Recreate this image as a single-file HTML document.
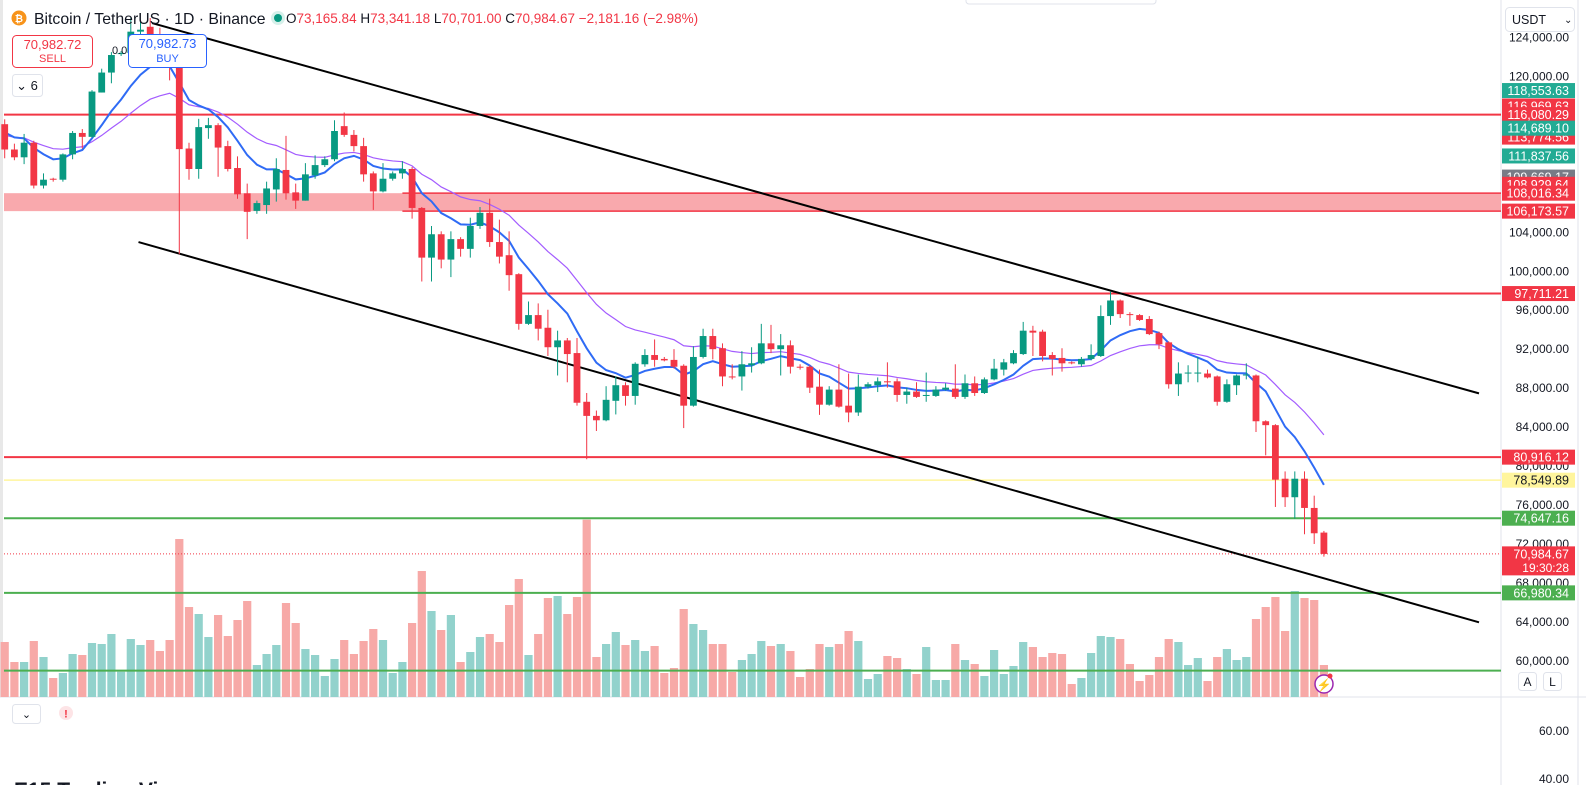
<!DOCTYPE html>
<html><head><meta charset="utf-8"><style>
html,body{margin:0;padding:0;background:#fff;width:1586px;height:785px;overflow:hidden;font-family:"Liberation Sans",Arial,sans-serif;}
svg{display:block}
</style></head><body>
<svg id="chart" width="1586" height="785" xmlns="http://www.w3.org/2000/svg" style="position:absolute;left:0;top:0">
  <rect x="0" y="0" width="1586" height="785" fill="#fff"/>
  <rect x="0" y="0" width="3" height="697" fill="#e8e8e8"/>
  <line x1="1501" y1="0" x2="1501" y2="785" stroke="#e0e3eb"/>
  <line x1="0" y1="697" x2="1586" y2="697" stroke="#e0e3eb"/>
  <line x1="1578" y1="0" x2="1578" y2="785" stroke="#e0e3eb"/>
  <g id="vol"></g>
  <g id="levels"></g>
  <g id="trend"></g>
  <g id="ema"></g>
  <g id="candles"></g>
  <g id="axis"></g>
  <g id="tags"></g>
  <text x="1569" y="735" font-size="12" fill="#131722" text-anchor="end">60.00</text>
  <text x="1569" y="783" font-size="12" fill="#131722" text-anchor="end">40.00</text>
  <text x="14" y="797" font-size="21" font-weight="bold" fill="#131722">E15 Trading Vi</text>
  <circle cx="19" cy="18" r="7.5" fill="#f7931a"/>
  <text x="19" y="22" font-size="10" fill="#fff" text-anchor="middle" font-weight="bold">₿</text>
  <text x="34" y="24" font-size="15.8" fill="#131722">Bitcoin / TetherUS · 1D · Binance</text>
  <circle cx="278" cy="18" r="7" fill="#d6f0ea"/>
  <circle cx="278" cy="18" r="4" fill="#089981"/>
  <text x="286" y="23" font-size="13.5" fill="#f23645"><tspan fill="#131722">O</tspan>73,165.84 <tspan fill="#131722">H</tspan>73,341.18 <tspan fill="#131722">L</tspan>70,701.00 <tspan fill="#131722">C</tspan>70,984.67 −2,181.16 (−2.98%)</text>
  <rect x="12.5" y="35.5" width="80" height="32" rx="4" fill="#fff" stroke="#f23645"/>
  <text x="52.5" y="49" font-size="13" fill="#f23645" text-anchor="middle">70,982.72</text>
  <text x="52.5" y="62" font-size="11" fill="#f23645" text-anchor="middle">SELL</text>
  <text x="112" y="54" font-size="11" fill="#131722">0.01</text>
  <rect x="128.5" y="34.5" width="78" height="33" rx="4" fill="#fff" stroke="#2962ff"/>
  <text x="167.5" y="48" font-size="13" fill="#2962ff" text-anchor="middle">70,982.73</text>
  <text x="167.5" y="62" font-size="11" fill="#2962ff" text-anchor="middle">BUY</text>
  <rect x="12.5" y="74.5" width="30" height="22" rx="3" fill="#fff" stroke="#e0e3eb"/>
  <text x="27" y="90" font-size="13" fill="#131722" text-anchor="middle">⌄ 6</text>
  <rect x="966" y="-4" width="190" height="8" rx="3" fill="#fff" stroke="#e0e3eb"/>
  <rect x="1505.5" y="7.5" width="69" height="24" rx="4" fill="#fff" stroke="#e0e3eb"/>
  <text x="1512" y="24" font-size="12.5" fill="#131722">USDT</text>
  <text x="1564" y="23" font-size="10" fill="#131722">⌄</text>
  <rect x="1518.5" y="672.5" width="18" height="18" rx="3" fill="#fff" stroke="#e0e3eb"/>
  <text x="1527.5" y="686" font-size="12" fill="#131722" text-anchor="middle">A</text>
  <rect x="1543.5" y="672.5" width="18" height="18" rx="3" fill="#fff" stroke="#e0e3eb"/>
  <text x="1552.5" y="686" font-size="12" fill="#131722" text-anchor="middle">L</text>
  <circle cx="1324" cy="684" r="9" fill="#fff" stroke="#9c27b0" stroke-width="1.5"/>
  <text x="1324" y="689" font-size="12" fill="#9c27b0" text-anchor="middle">⚡</text>
  <circle cx="1330" cy="676" r="2.5" fill="#f23645"/>
  <rect x="12.5" y="704.5" width="28" height="19" rx="3" fill="#fff" stroke="#e0e3eb"/>
  <text x="26.5" y="718" font-size="11" fill="#131722" text-anchor="middle">⌄</text>
  <circle cx="66" cy="713" r="7" fill="#fde4e6"/>
  <text x="66" y="717.5" font-size="11" fill="#f23645" text-anchor="middle" font-weight="bold">!</text>
</svg>
<script>
const opens=[115.1,112.5,111.7,113.2,108.8,109.5,109.4,112.0,114.2,113.8,
118.35,120.4,122.3,122.4,124.6,125.1,124.2,121.5,120.94,112.6,
110.5,114.7,115.0,112.85,110.6,108.0,106.2,106.8,108.4,110.4,
108.1,107.25,109.85,110.9,111.5,114.9,114.0,112.85,110.05,108.2,
109.5,110.05,110.5,106.5,101.4,103.8,101.2,103.3,102.3,104.65,
106.0,103.0,101.65,99.7,94.6,95.5,94.2,92.2,92.9,91.6,
86.6,85.15,84.7,86.7,88.3,87.2,90.45,91.4,91.0,90.9,
90.3,86.2,91.2,93.35,92.1,89.2,89.2,90.35,90.55,92.6,
92.0,92.4,90.2,90.2,88.15,86.3,87.85,86.2,85.5,88.15,
88.3,88.7,88.7,87.3,87.65,87.2,87.2,87.85,87.95,87.1,
88.5,87.5,88.9,89.9,90.55,91.5,93.9,93.8,91.4,91.1,
90.65,90.45,91.0,91.3,95.4,97.0,95.6,95.5,95.1,93.65,
92.7,88.4,89.5,89.5,89.5,89.2,86.6,88.3,89.3,89.3,
84.6,84.2,78.7,76.8,78.7,75.7,73.17];
const highs=[115.6,113.1,114.1,113.4,110.05,109.6,112.1,114.4,114.6,118.6,
120.8,122.5,122.6,126.0,125.6,126.0,125.0,121.8,121.0,113.2,
115.65,115.75,115.2,113.4,111.8,109.0,107.25,109.2,111.6,113.9,
109.0,111.1,111.9,111.8,115.5,116.3,114.5,113.7,110.25,111.1,
110.25,111.3,110.7,106.6,104.65,104.1,104.1,103.5,105.5,106.6,
107.45,105.3,104.1,99.8,96.9,96.7,96.05,93.9,93.15,93.15,
87.5,85.7,88.2,89.2,88.6,90.65,92.0,93.0,91.2,92.0,
90.45,92.3,94.1,94.1,92.6,90.45,91.8,92.2,94.6,94.5,
93.55,92.9,90.45,90.35,89.9,88.2,90.45,89.5,89.4,88.6,
89.1,90.65,89.0,88.05,88.6,89.6,88.2,88.5,90.45,89.4,
89.2,89.1,91.0,91.0,91.9,94.8,94.4,94.0,91.7,92.1,
90.75,91.2,92.5,96.5,97.9,97.1,95.8,95.6,95.4,93.8,
92.8,90.65,90.35,91.2,89.9,89.3,88.9,89.4,90.55,89.4,
84.7,84.3,79.45,79.45,79.45,76.96,73.34];
const lows=[111.6,111.4,111.0,108.5,108.5,109.2,109.2,111.5,112.6,113.7,
118.35,119.3,122.1,122.2,124.05,123.0,121.0,119.6,101.75,109.4,
109.5,113.6,109.7,110.25,107.45,103.3,105.9,105.9,107.15,107.35,
106.4,107.25,109.5,110.7,111.3,113.8,112.3,109.2,106.3,108.1,
109.3,109.5,105.4,98.95,98.95,100.3,99.4,101.5,101.4,104.35,
102.5,100.8,98.0,94.0,94.5,92.9,91.3,89.3,88.6,86.2,
80.7,83.6,84.6,85.3,86.2,86.3,90.2,90.2,90.75,90.0,
83.9,86.1,91.05,90.95,88.2,88.9,87.75,89.6,90.45,91.6,
89.3,89.5,89.9,87.5,85.25,86.2,86.0,84.5,85.15,87.95,
87.6,88.05,86.6,86.4,87.0,86.6,87.1,87.75,86.9,86.9,
87.2,87.4,88.8,89.3,90.45,91.4,91.3,90.75,89.3,89.7,
90.45,90.2,90.85,91.2,94.5,95.2,94.4,94.9,93.45,92.0,
87.95,87.2,88.6,88.6,89.0,86.2,86.5,87.3,88.9,83.5,
81.1,75.8,75.8,74.6,73.0,72.0,70.70];
const closes=[112.5,111.7,113.2,108.8,109.4,109.4,112.0,114.2,113.8,118.45,
120.4,122.2,122.4,124.6,124.8,124.2,121.5,120.9,112.54,110.5,
114.8,115.0,112.7,110.5,107.9,106.1,107.0,108.5,110.5,108.0,
107.25,109.95,110.9,111.5,114.4,114.0,112.85,109.95,108.2,109.5,
110.05,110.5,106.5,101.4,103.8,101.2,103.3,102.3,104.65,106.0,
103.0,101.5,99.6,94.6,95.5,94.1,92.2,92.9,91.5,86.5,
85.15,84.7,86.8,88.3,87.2,90.5,91.4,90.9,90.85,90.2,
86.2,91.2,93.35,92.0,89.2,89.15,90.45,90.55,92.6,92.0,
92.4,90.2,90.1,88.05,86.3,87.85,86.1,85.5,88.15,88.4,
88.7,88.6,87.3,87.65,87.1,87.3,87.85,88.05,87.1,88.5,
87.5,88.9,90.0,90.65,91.6,93.9,93.7,91.3,91.0,90.55,
90.55,91.0,91.4,95.4,97.0,95.6,95.5,95.0,93.55,92.5,
88.4,89.5,89.6,89.6,89.1,86.6,88.4,89.3,89.4,84.6,
84.2,78.6,76.8,78.7,75.7,73.1,70.98];
const volumes=[144,84,84,147,99,36,51,108,105,141,138,168,55,153,135,150,117,150,453,249,
228,159,225,162,210,267,75,108,135,261,201,123,105,42,93,150,108,147,183,150,
51,84,201,357,237,180,225,84,114,159,168,144,255,333,105,168,276,282,228,279,
511,99,138,174,135,150,117,132,51,66,243,198,180,138,138,54,90,108,147,132,
138,117,39,63,138,129,138,177,147,33,48,102,96,63,48,129,30,30,138,90,
78,42,120,48,72,144,129,99,111,108,18,36,111,162,159,153,78,27,45,99,
153,144,75,96,27,99,123,90,99,213,249,279,177,297,276,270,75];
const axisTicks=[124,120,116,112,108,104,100,96,92,88,84,80,76,72,68,64,60];
const levelPrices=[116.08029,97.71121,80.91612,78.54989,74.64716,66.98034,59.0];
const zoneRange=[106.17357,108.01634];
const tagPrices=[116.96963,113.77456,109.66917,108.92964,118.55363,116.08029,114.68910,111.83756,108.01634,106.17357,97.71121,80.91612,78.54989,74.64716,66.98034,70.98467];
const tagTexts=["116,969.63","113,774.56","109,669.17","108,929.64","118,553.63","116,080.29","114,689.10","111,837.56","108,016.34","106,173.57","97,711.21","80,916.12","78,549.89","74,647.16","66,980.34","70,984.67"];
const tagKinds=["r","r","g2","r","g","r","g","g","r","r","r","r","y","gl","gl","r"];
const upperTrend=[[152,125.48],[1479,87.46]];
const lowerTrend=[[138.5,103.0],[1479,63.96]];

const NS="http://www.w3.org/2000/svg";
const Y=p=>37.5+(124-p)*9.74;
const X=i=>4.7+i*9.70;
const XR=1501;
function mk(tag,attrs,parent){const e=document.createElementNS(NS,tag);for(const k in attrs)e.setAttribute(k,attrs[k]);parent.appendChild(e);return e;}
const G=id=>document.getElementById(id);

const vg=G('vol');
volumes.forEach((v,i)=>{
  const up=closes[i]>=opens[i];
  const top=690-v/3;
  const r=mk('rect',{x:X(i)-4.1,y:top,width:8.2,height:697-top,fill:up?'#92d2cc':'#f7a9a7'},vg);
  
  
});

const lg=G('levels');
const z=mk('rect',{x:4,y:Y(zoneRange[1]),width:XR-4,height:Y(zoneRange[0])-Y(zoneRange[1]),fill:'#f9a9ad'},lg);


[zoneRange[0],zoneRange[1]].forEach(p=>{
  const l=mk('line',{x1:X(41),x2:XR,y1:Y(p),y2:Y(p),stroke:'#f23645','stroke-width':1.5},lg);
  
  
});
const lvlColors=['#f23645','#f23645','#f23645','#fff59d','#4caf50','#4caf50','#4caf50'];
const lvlStart=[4,X(53),4,4,4,4,4];
levelPrices.forEach((p,k)=>{
  const l=mk('line',{x1:lvlStart[k],x2:XR,y1:Y(p),y2:Y(p),stroke:lvlColors[k],'stroke-width':k===3?1.5:2},lg);
  
  
});
const pl=mk('line',{x1:4,x2:XR,y1:Y(closes[closes.length-1]),y2:Y(closes[closes.length-1]),stroke:'#f23645','stroke-width':1,'stroke-dasharray':'1 2'},lg);



const tg=G('trend');
[upperTrend,lowerTrend].forEach(t=>{
  const l=mk('line',{x1:t[0][0],y1:Y(t[0][1]),x2:t[1][0],y2:Y(t[1][1]),stroke:'#000','stroke-width':2},tg);
  
  
});

const eg=G('ema');
function ema(n,seed){const out=[];let e=seed;const k=2/(n+1);closes.forEach(c=>{e=c*k+e*(1-k);out.push(e);});return out;}
const emaFast=ema(9,114.7), emaSlow=ema(21,114.1);
const p1=mk('polyline',{points:emaSlow.map((v,i)=>X(i)+','+Y(v)).join(' '),fill:'none',stroke:'#a35cff','stroke-width':1.2},eg);


const p2=mk('polyline',{points:emaFast.map((v,i)=>X(i)+','+Y(v)).join(' '),fill:'none',stroke:'#2f6bf5','stroke-width':2},eg);



const cg=G('candles');
opens.forEach((o,i)=>{
  const c=closes[i],up=c>=o,col=up?'#089981':'#f23645';
  const w=mk('line',{x1:X(i),x2:X(i),y1:Y(highs[i]),y2:Y(lows[i]),stroke:col,'stroke-width':1},cg);
  
  
  const t=Math.min(Y(o),Y(c)),h=Math.max(1,Math.abs(Y(o)-Y(c)));
  const b=mk('rect',{x:X(i)-3.4,y:t,width:6.8,height:h,fill:col},cg);
  
  
});

const ag=G('axis');
axisTicks.forEach(p=>{
  const t=mk('text',{x:1569,y:Y(p)+4,'font-size':12,fill:'#131722','text-anchor':'end'},ag);
  t.textContent=(p*1000).toLocaleString('en-US')+'.00';
  
  
});

const tgg=G('tags');
const kindBg={r:'#f23645',g:'#22ab94',g2:'#787b86',y:'#fff59d',gl:'#4caf50'};
tagPrices.forEach((p,k)=>{
  const last=k===tagPrices.length-1;
  const y=Y(p);
  const r=mk('rect',{x:1502,y:y-7.5,width:73,height:last?29:15,fill:kindBg[tagKinds[k]]},tgg);
  
  
  const t=mk('text',{x:1569,y:y+4.5,'font-size':12.5,fill:tagKinds[k]==='y'?'#131722':'#fff','text-anchor':'end'},tgg);
  t.textContent=tagTexts[k];
  
  
  if(last){
    const c=mk('text',{x:1569,y:y+18,'font-size':12,fill:'#fff','text-anchor':'end'},tgg);
    c.textContent='19:30:28';
    
    
  }
});
</script>
</body></html>
